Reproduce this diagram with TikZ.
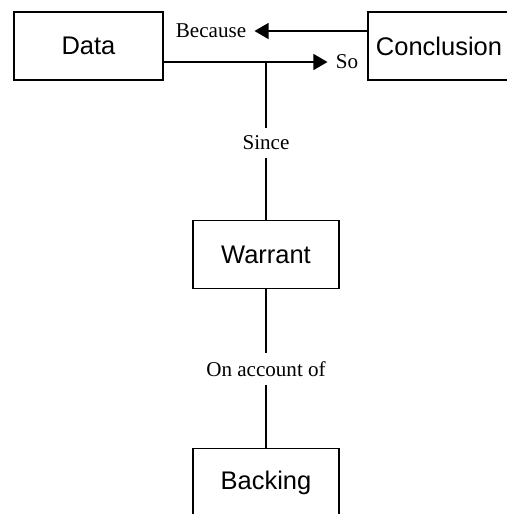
\documentclass[tikz,border=0pt]{standalone}
\usepackage{fontspec}
\setmainfont{Liberation Serif}
\setsansfont{Liberation Sans}
\usetikzlibrary{arrows.meta}

\begin{document}
\begin{tikzpicture}[
    x=0.02cm, y=-0.02cm,
    block/.style={rectangle, draw, line width=1.1pt, minimum width=2.92cm, minimum height=1.36cm, font=\sffamily\fontsize{14.5}{17}\selectfont},
    tag/.style={inner sep=0.16cm, font=\fontsize{12}{14}\selectfont},
    arrow/.style={-{Triangle[length=8pt, width=9pt]}, line width=1.1pt},
    conn/.style={line width=1.1pt}
]
\useasboundingbox (0,0) rectangle (507,514);

\node[block, minimum width=2.98cm] (data) at (88.5,46) {Data};
\node[block, minimum width=2.84cm] (concl) at (439,46) {Conclusion};
\node[block] (warrant) at (266,254.5) {Warrant};
\node[block] (backing) at (266,482.5) {Backing};

\node[tag] (because) at (211,31) {Because};
\node[tag] (so) at (347,62) {So};
\node[tag] (since) at (266,143) {Since};
\node[tag] (account) at (266,369) {On account of};
\coordinate (split) at (266,62);

\draw[arrow] (concl.west |- because) -- (because);
\draw[arrow] (data.east |- so) -- (so);
\draw[conn] (split) -- (since) -- (warrant) -- (account) -- (backing);
\end{tikzpicture}
\end{document}
